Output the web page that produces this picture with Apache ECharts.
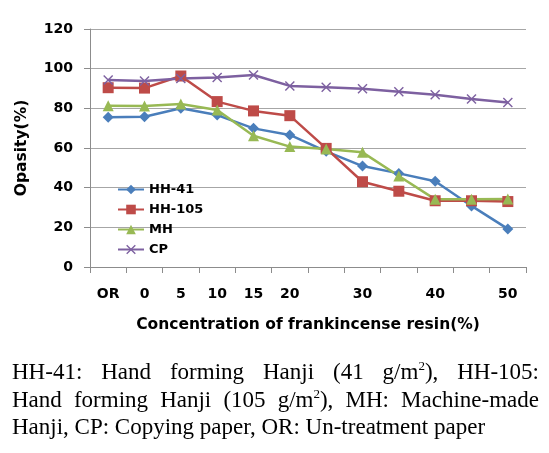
<!DOCTYPE html>
<html>
<head>
<meta charset="utf-8">
<script src="https://cdn.jsdelivr.net/npm/echarts@6/dist/echarts.min.js"></script>
<style>
  html, body { margin: 0; padding: 0; background: #fff; }
  #wrap { position: relative; width: 549px; height: 453px; }
  #chart { position: absolute; left: 0; top: 0; width: 549px; height: 453px; }
  #caption {
    position: absolute; left: 12px; top: 358px; width: 527px;
    font-family: 'Liberation Serif', serif; font-size: 23px; line-height: 27.5px;
    color: #000;
  }
  #caption .j { text-align: justify; text-align-last: justify; white-space: nowrap; }
  #caption sup { font-size: 13px; line-height: 0; }
</style>
</head>
<body>
<div id="wrap">
  <div id="chart"></div>
  <div id="caption">
    <div class="j">HH-41: Hand forming Hanji (41 g/m<sup>2</sup>), HH-105:</div>
    <div class="j">Hand forming Hanji (105 g/m<sup>2</sup>), MH: Machine-made</div>
    <div>Hanji, CP: Copying paper, OR: Un-treatment paper</div>
  </div>
</div>
<script>
// categories (the 25/35/45 ticks carry no label in the original)
const categories = ['OR', '0', '5', '10', '15', '20', '25', '30', '35', '40', '45', '50']
const tickLabels = ['OR', '0', '5', '10', '15', '20', '', '30', '', '40', '', '50']

const hh41 = [75.5, 75.8, 80, 76.6, 69.9, 66.6, 58.3, 50.9, 47.2, 43.2, 30.8, 19.2]
const hh105 = [90.4, 90.2, 96.3, 83.4, 78.7, 76.3, 59.8, 43, 38.2, 33.4, 33.4, 33]
const mh = [81.3, 81.2, 82.2, 79.2, 66.2, 60.7, 59.5, 57.8, 45.9, 34.1, 34.1, 34.3]
const cp = [94.3, 93.8, 95.1, 95.6, 96.8, 91.3, 90.6, 89.9, 88.4, 86.9, 84.7, 82.9]

const boldFont = 'DejaVu Sans'
const xMark = 'path://M0,1L1,0L5,4L9,0L10,1L6,5L10,9L9,10L5,6L1,10L0,9L4,5Z'

const myChart = echarts.init(document.getElementById('chart'))

function lineSeries(name, data, color, symbol, size) {
  return {
    name: name,
    type: 'line',
    data: data,
    symbol: symbol,
    symbolSize: size,
    showSymbol: true,
    color: color,
    lineStyle: { color: color, width: 2.5 },
    itemStyle: { color: color },
    animation: false
  }
}

const option = {
  animation: false,
  grid: { left: 90, right: 23, top: 29, bottom: 186 },
  legend: {
    orient: 'vertical',
    left: 112,
    top: 178,
    itemGap: 7,
    itemWidth: 26,
    itemHeight: 12,
    textStyle: { fontFamily: boldFont, fontWeight: 'bold', fontSize: 13, color: '#000' },
    data: ['HH-41', 'HH-105', 'MH', 'CP']
  },
  xAxis: {
    type: 'category',
    data: categories,
    boundaryGap: true,
    axisLine: { lineStyle: { color: '#8c8c8c' } },
    axisTick: { show: true, length: 6, inside: false, lineStyle: { color: '#8c8c8c' } },
    axisLabel: {
      interval: 0,
      margin: 20,
      formatter: (v, i) => tickLabels[i],
      fontFamily: boldFont, fontWeight: 'bold', fontSize: 14, color: '#000'
    },
    name: 'Concentration of frankincense resin(%)',
    nameLocation: 'middle',
    nameGap: 50,
    nameTextStyle: { fontFamily: boldFont, fontWeight: 'bold', fontSize: 15.5, color: '#000' }
  },
  yAxis: {
    type: 'value',
    min: 0,
    max: 120,
    interval: 20,
    axisLine: { show: true, lineStyle: { color: '#8c8c8c' } },
    axisTick: { show: true, length: 6, lineStyle: { color: '#8c8c8c' } },
    splitLine: { lineStyle: { color: '#a6a6a6' } },
    axisLabel: { margin: 17, fontFamily: boldFont, fontWeight: 'bold', fontSize: 14, color: '#000' },
    name: 'Opasity(%)',
    nameLocation: 'middle',
    nameGap: 60,
    nameTextStyle: { fontFamily: boldFont, fontWeight: 'bold', fontSize: 15.5, color: '#000' }
  },
  series: [
    lineSeries('HH-41', hh41, '#4a7ebb', 'diamond', 11),
    lineSeries('HH-105', hh105, '#be4b48', 'rect', 11),
    lineSeries('MH', mh, '#98b954', 'triangle', 11),
    lineSeries('CP', cp, '#7d60a0', xMark, 10)
  ]
}

myChart.setOption(option)
</script>
</body>
</html>
